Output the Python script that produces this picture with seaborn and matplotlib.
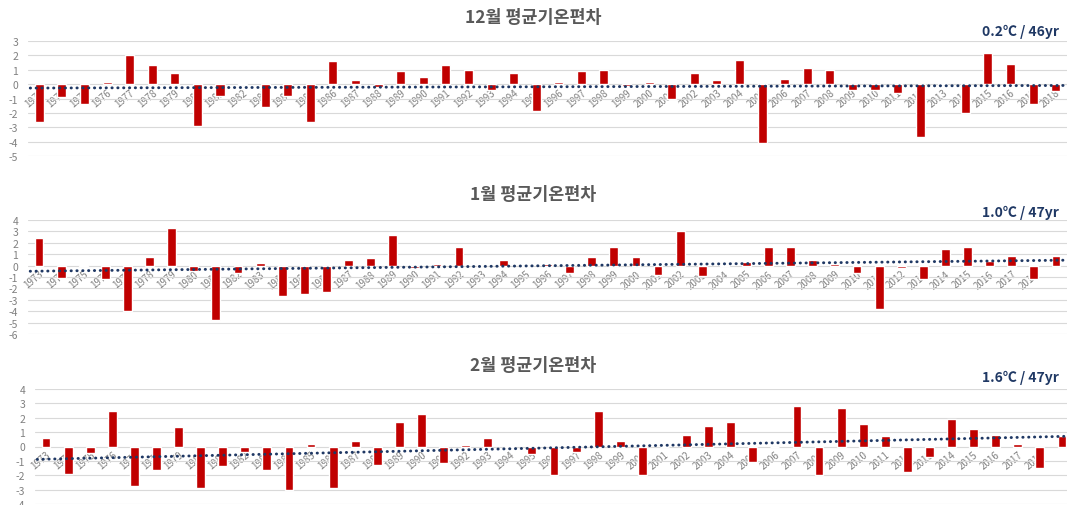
import matplotlib
matplotlib.use("Agg")
import matplotlib.pyplot as plt
import seaborn as sns
import numpy as np
import pandas as pd

# ---------------- data ----------------
dec_years = [str(y) for y in range(1973, 2019)]
dec_values = [-2.6, -0.9, -1.4, 0.15, 2.0, 1.33, 0.8, -2.9, -0.8, 0.1,
              -1.6, -0.8, -2.6, 1.6, 0.28, -0.2, 0.9, 0.5, 1.33, 1.0,
              -0.4, 0.8, -1.9, 0.15, 0.9, 1.0, -0.15, 0.15, -1.0, 0.8,
              0.28, 1.7, -4.1, 0.37, 1.1, 1.0, -0.4, -0.4, -0.6, -3.7,
              0.1, -2.0, 2.2, 1.37, -1.4, -0.5]

jan_years = [str(y) for y in range(1973, 2020)]
jan_values = [2.45, -1.05, 0.05, -1.2, -4.0, 0.75, 3.3, -0.45, -4.8, -0.65,
              0.26, -2.7, -2.5, -2.35, 0.5, 0.67, 2.65, -0.2, 0.17, 1.66,
              0.08, 0.5, 0.0, 0.1, -0.65, 0.75, 1.66, 0.75, -0.8, 3.0,
              -0.95, 0.05, 0.3, 1.66, 1.66, 0.52, 0.15, -0.65, -3.8, -0.25,
              -1.2, 1.45, 1.66, 0.4, 0.87, -1.15, 0.87]

feb_years = [str(y) for y in range(1973, 2020)]
feb_values = [0.6, -1.93, -0.47, 2.5, -2.72, -1.6, 1.33, -2.9, -1.37, -0.4,
              -1.6, -3.0, 0.2, -2.9, 0.4, -1.28, 1.7, 2.23, -1.16, 0.12,
              0.6, 0.05, -0.49, -2.0, -0.4, 2.5, 0.4, -2.0, 0.0, 0.8,
              1.4, 1.7, -1.07, 0.0, 2.8, -2.0, 2.7, 1.6, 0.7, -1.8,
              -0.7, 1.9, 1.2, 0.8, 0.15, -1.5, 0.7]

titles = ["12월 평균기온편차", "1월 평균기온편차", "2월 평균기온편차"]
trend_notes = ["0.2℃ / 46yr", "1.0℃ / 47yr", "1.6℃ / 47yr"]
ylims = [(-5, 3), (-6, 4), (-4, 4)]
hidden_last_label = [False, True, True]

# ---------------- style ----------------
sns.set_theme(style="whitegrid")
plt.rcParams["font.family"] = ["Noto Sans CJK KR", "DejaVu Sans"]
plt.rcParams["axes.unicode_minus"] = False

W, H = 1067, 506
fig = plt.figure(figsize=(W / 100, H / 100), dpi=100)

# axes boxes in pixels: (left, top, right, bottom)
boxes = [(28, 42, 1067, 157), (28, 221, 1067, 335), (35, 390, 1073, 505)]
title_y = [18, 195, 366]
note_y = [32, 213, 378]

bar_color = "#C00000"
trend_color = "#1F3864"
grid_color = "#D9D9D9"
tick_color = "#808080"

panels = [(dec_years, dec_values), (jan_years, jan_values), (feb_years, feb_values)]

for i, (years, vals) in enumerate(panels):
    l, t, r, b = boxes[i]
    ax = fig.add_axes([l / W, 1 - b / H, (r - l) / W, (b - t) / H])
    df = pd.DataFrame({"year": years, "value": vals})
    sns.barplot(data=df, x="year", y="value", color=bar_color, width=0.4,
                saturation=1, ax=ax, zorder=1)
    # linear trend (as in the original trendline)
    xs = np.arange(len(vals))
    k, c = np.polyfit(xs, np.array(vals), 1)
    xe = np.array([-0.4, len(vals) - 0.6])
    ax.plot(xe, k * xe + c, color=trend_color, lw=2.1,
            linestyle=(0, (0.1, 1.9)), dash_capstyle="round", zorder=3)

    lo, hi = ylims[i]
    ax.set_ylim(lo, hi)
    ax.set_xlim(-0.5, len(vals) - 0.5)
    ax.set_yticks(range(lo, hi + 1))
    ax.set_yticklabels([str(v) for v in range(lo, hi + 1)])
    ax.set_xlabel("")
    ax.set_ylabel("")
    ax.grid(axis="y", color=grid_color, lw=0.8)
    ax.grid(axis="x", visible=False)
    for s in ["top", "right", "left"]:
        ax.spines[s].set_visible(False)
    ax.spines["bottom"].set_position(("data", 0))
    ax.spines["bottom"].set_visible(False)
    ax.set_facecolor("none")
    ax.tick_params(axis="y", length=0, pad=7, labelsize=7.5, labelcolor=tick_color)
    ax.tick_params(axis="x", length=0, pad=2, labelsize=7, labelcolor=tick_color)
    for lab in ax.get_xticklabels():
        lab.set_rotation(40)
        lab.set_ha("right")
        lab.set_va("top")
        lab.set_rotation_mode("anchor")
    if hidden_last_label[i]:
        ax.get_xticklabels()[-1].set_visible(False)

    fig.text(0.5, 1 - title_y[i] / H, titles[i], ha="center", va="center",
             fontsize=12.5, fontweight="bold", color="#595959")
    fig.text(1059 / W, 1 - note_y[i] / H, trend_notes[i], ha="right", va="center",
             fontsize=10, fontweight="bold", color=trend_color)

fig.savefig("out.png", dpi=100)
